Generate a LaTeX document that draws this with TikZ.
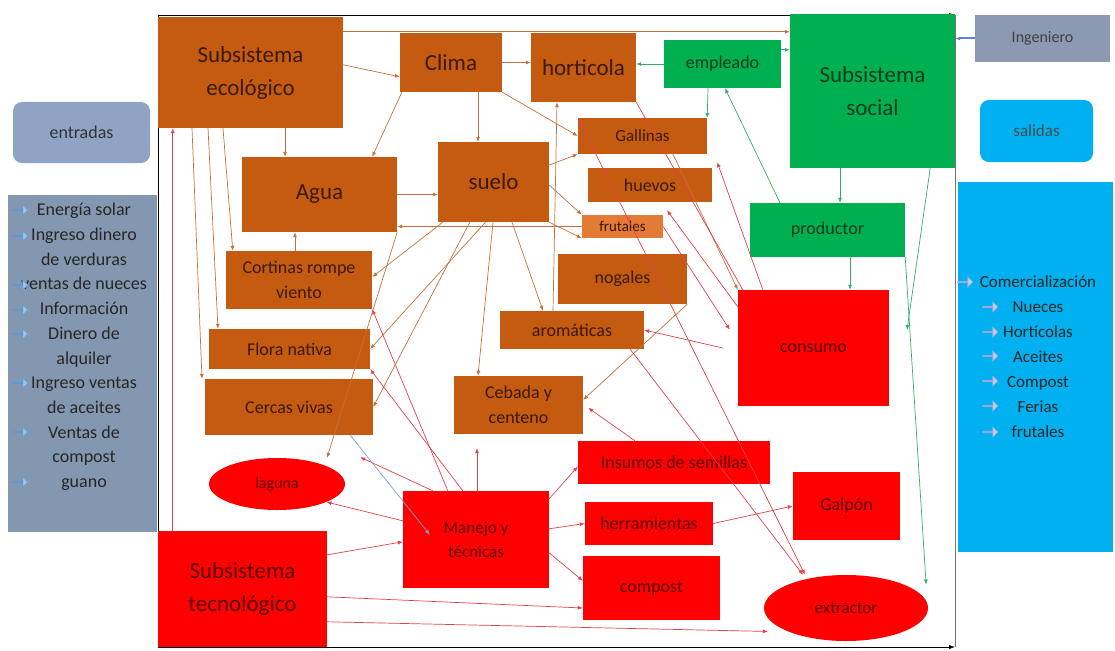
\documentclass[tikz,border=0pt]{standalone}
\usepackage{fontspec}
\setmainfont{Carlito}
\usetikzlibrary{arrows.meta,shapes.geometric,shapes.arrows}

\definecolor{ecofill}{HTML}{C55A11}
\definecolor{frutfill}{HTML}{E37A35}
\definecolor{socfill}{HTML}{00B050}
\definecolor{tecfill}{HTML}{FF0000}
\definecolor{entfill}{HTML}{8FA3C4}
\definecolor{entlist}{HTML}{8497B0}
\definecolor{salfill}{HTML}{00B0F0}
\definecolor{ingfill}{HTML}{8C99B3}
\definecolor{ecotext}{HTML}{3A1A05}
\definecolor{soctext}{HTML}{0B3B1C}
\definecolor{tectext}{HTML}{5A0000}
\definecolor{ecolink}{HTML}{C4703C}
\definecolor{teclink}{HTML}{E5404A}
\definecolor{soclink}{HTML}{2EAF6A}
\definecolor{bluelink}{HTML}{7F9FC9}
\definecolor{bullin}{HTML}{5B9BD5}
\definecolor{bullout}{HTML}{9AA8D8}

\tikzset{
  titlefont/.style={font=\fontsize{23}{33}\selectfont},
  midfont/.style={font=\fontsize{18}{25}\selectfont},
  smallfont/.style={font=\fontsize{16}{22}\selectfont},
  ecobox/.style={rectangle, fill=ecofill, text=ecotext},
  socbox/.style={rectangle, fill=socfill, text=soctext},
  tecbox/.style={rectangle, fill=tecfill, text=tectext},
  tecoval/.style={ellipse, fill=tecfill, text=tectext},
  ecoline/.style={ecolink, line width=0.7pt, ->},
  tecline/.style={teclink, line width=0.7pt, ->},
  socline/.style={soclink, line width=0.7pt, ->},
  blueline/.style={bluelink, line width=0.7pt, ->},
  frame/.style={black, line width=0.8pt},
  inarrow/.style={single arrow, draw=bullin, fill=bullin!60, line width=0.6pt,
    minimum height=15pt, minimum width=10pt, single arrow head extend=2.5pt,
    inner sep=0pt},
  outarrow/.style={inarrow, draw=bullout, fill=bullout!60}
}

\begin{document}
\begin{tikzpicture}[x=1pt, y=-1pt, >={Latex[length=5pt,width=4pt]},
  every node/.style={inner sep=0pt, align=center}]
  \useasboundingbox (0,0) rectangle (1115,650);

  % Frame
  \coordinate (f1) at (158,15);
  \coordinate (f2) at (955,15);
  \coordinate (f3) at (955,647);
  \coordinate (f4) at (158,647);
  \coordinate (sc) at (907,330);
  \draw[frame, -{Latex[length=6pt]}] (f1) -- (f2);
  \draw[frame, -{Latex[length=6pt]}] (f4) -- (f3);
  \draw[frame] (f1) -- (f4);
  \draw[black!55, line width=0.8pt] (f2) -- (f3);

  % Entradas
  \node[fill=entfill, rounded corners=9pt, minimum width=137pt, minimum height=61pt,
    midfont, text=black!80] (entr) at (81.5,132.5) {entradas};
  \node[fill=entlist, minimum width=149pt, minimum height=337pt] (entbox) at (82.5,363.5) {};
  \node[font=\fontsize{18}{24.7}\selectfont, text=black!85] (entxt) at (84,347)
    {Energía solar\\Ingreso dinero\\de verduras\\ventas de nueces\\Información\\Dinero de\\alquiler\\Ingreso ventas\\de aceites\\Ventas de\\compost\\guano};
  \foreach \y [count=\i] in {210,236,285,310,334,383,432,482}
    \node[inarrow] (bi\i) at (20,\y) {};

  % Salidas
  \node[fill=ingfill, minimum width=135pt, minimum height=47pt, smallfont,
    text=black!75] (ing) at (1042.5,38.5) {Ingeniero};
  \node[fill=salfill, rounded corners=9pt, minimum width=113pt, minimum height=62pt,
    font=\fontsize{17}{22}\selectfont, text=black!70] (sal) at (1036.5,131) {salidas};
  \node[fill=salfill, minimum width=155pt, minimum height=370pt] (salbox) at (1035.5,367) {};
  \node[font=\fontsize{17}{25}\selectfont, text=black!85] (saltxt) at (1038,357)
    {Comercialización\\Nueces\\Hortícolas\\Aceites\\Compost\\Ferias\\frutales};
  \foreach \y [count=\i] in {307,332,356,381,406,432}
    \node[outarrow] (bo\i) at (990,\y) {};
  \node[outarrow] (bo0) at (965,282) {};

  % Subsistema ecologico
  \node[ecobox, titlefont, minimum width=185pt, minimum height=111pt] (ecol) at (250.5,72.5) {Subsistema\\ecológico};
  \node[ecobox, titlefont, minimum width=102pt, minimum height=59pt] (clima) at (451,62.5) {Clima};
  \node[ecobox, titlefont, minimum width=105pt, minimum height=69pt] (hort) at (583.5,67.5) {horticola};
  \node[ecobox, titlefont, minimum width=155pt, minimum height=75pt] (agua) at (319.5,194.5) {Agua};
  \node[ecobox, titlefont, minimum width=111pt, minimum height=80pt] (suelo) at (493.5,182) {suelo};
  \node[ecobox, font=\fontsize{17}{22}\selectfont, minimum width=129pt, minimum height=36pt] (gall) at (642.5,136) {Gallinas};
  \node[ecobox, midfont, minimum width=124pt, minimum height=34pt] (huev) at (650,185) {huevos};
  \node[ecobox, fill=frutfill, font=\fontsize{15}{18}\selectfont, minimum width=81pt, minimum height=23pt] (frut) at (622.5,226.5) {frutales};
  \node[ecobox, midfont, minimum width=146pt, minimum height=58pt] (cort) at (299,280) {Cortinas rompe\\viento};
  \node[ecobox, midfont, minimum width=129pt, minimum height=50pt] (nog) at (622.5,279) {nogales};
  \node[ecobox, midfont, minimum width=144pt, minimum height=38pt] (arom) at (572,330) {aromáticas};
  \node[ecobox, midfont, minimum width=161pt, minimum height=40pt] (flora) at (289.5,349) {Flora nativa};
  \node[ecobox, midfont, minimum width=168pt, minimum height=56pt] (cerc) at (289,407) {Cercas vivas};
  \node[ecobox, midfont, minimum width=129pt, minimum height=58pt] (ceba) at (518.5,405) {Cebada y\\centeno};

  % Subsistema social
  \node[socbox, titlefont, minimum width=165pt, minimum height=154pt] (social) at (872.5,91) {Subsistema\\social};
  \node[socbox, midfont, minimum width=117pt, minimum height=48pt] (empl) at (722.5,64) {empleado};
  \node[socbox, midfont, minimum width=155pt, minimum height=54pt] (prod) at (827.5,230) {productor};

  % Subsistema tecnologico
  \node[tecbox, titlefont, minimum width=169pt, minimum height=116pt] (tecn) at (242.5,589) {Subsistema\\tecnológico};
  \node[tecbox, midfont, minimum width=151pt, minimum height=116pt] (cons) at (813.5,348) {consumo};
  \node[tecbox, midfont, minimum width=192pt, minimum height=43pt] (insu) at (674,462.5) {Insumos de semillas};
  \node[tecbox, midfont, minimum width=107pt, minimum height=68pt] (galp) at (846.5,506) {Galpón};
  \node[tecbox, font=\fontsize{17}{24}\selectfont, minimum width=146pt, minimum height=97pt] (mane) at (476,539.5) {Manejo y\\técnicas};
  \node[tecbox, midfont, minimum width=128pt, minimum height=43pt] (herr) at (649,523.5) {herramientas};
  \node[tecbox, midfont, minimum width=137pt, minimum height=64pt] (comp) at (651.5,588) {compost};
  \node[tecoval, smallfont, minimum width=136pt, minimum height=52pt] (lag) at (277,484) {laguna};
  \node[tecoval, font=\fontsize{17}{22}\selectfont, minimum width=164pt, minimum height=66pt] (extr) at (846,608) {extractor};

  % Links of the ecological part
  \draw[ecoline] ([yshift=-15pt]ecol.north east) -- ([yshift=-18pt]social.north west);
  \draw[ecoline] ([yshift=-48pt]ecol.north east) -- ([yshift=-44pt]clima.north west);
  \draw[ecoline] (clima.east) -- (clima.east -| hort.west);
  \draw[ecoline] ([xshift=2pt]clima.south west) -- ([xshift=-25pt]agua.north east);
  \draw[ecoline] ([xshift=27pt]clima.south) -- ([xshift=-15.5pt]suelo.north);
  \draw[ecoline] (clima.south east) -- (gall.west);
  \draw[ecoline] ([xshift=34.5pt]ecol.south) -- ([xshift=-34.5pt]agua.north);
  \draw[ecoline] ([xshift=-58.5pt]ecol.south) -- ([xshift=-87pt]cerc.north);
  \draw[ecoline] ([xshift=-42.5pt]ecol.south) -- ([xshift=-71.5pt]flora.north);
  \draw[ecoline] ([xshift=-27.5pt]ecol.south) -- ([xshift=7pt]cort.north west);
  \draw[ecoline] ([xshift=-4pt]cort.north) -- ([xshift=-24.5pt]agua.south);
  \draw[ecoline] (agua.east) -- (agua.east -| suelo.west);
  \draw[ecoline] (frut.west) -- (agua.east |- frut.west);
  \draw[ecoline] ([yshift=17pt]suelo.east) -- (gall.south west);
  \draw[ecoline] ([yshift=-3pt]suelo.east) -- (frut.north west);
  \draw[ecoline] (suelo.south east) -- (frut.south west);
  \draw[ecoline] ([xshift=5pt]suelo.south west) -- ([yshift=3pt]cort.east);
  \draw[ecoline] ([xshift=32pt]suelo.south west) -- (cerc.east);
  \draw[ecoline] ([xshift=-8pt]suelo.south) -- (flora.east);
  \draw[ecoline] ([xshift=-0.5pt]suelo.south) -- ([xshift=-40.5pt]ceba.north);
  \draw[ecoline] ([xshift=18.5pt]suelo.south) -- ([xshift=-29pt]arom.north);
  \draw[ecoline] ([xshift=-19pt]arom.north) -- ([xshift=-26.5pt]hort.south);
  \draw[ecoline] ([xshift=30.5pt]gall.south) -- (cons.north west);
  \draw[ecoline] (nog.south east) -- ([yshift=-24pt]ceba.north east);
  \draw[ecoline] (agua.south east) -- ([xshift=50pt]lag.north);

  % Links of the social part
  \draw[socline] (empl.west) -- (empl.west -| hort.east);
  \draw[socline] ([yshift=-10pt]empl.north east) -- ([yshift=-36pt]social.north west);
  \draw[socline] ([xshift=-14.5pt]empl.south) -- (gall.north east);
  \draw[socline] ([xshift=-47.5pt]prod.north) -- ([xshift=2.5pt]empl.south);
  \draw[socline] ([xshift=-32.5pt]social.south) -- ([xshift=12.5pt]prod.north);
  \draw[socline] ([xshift=22.5pt]prod.south) -- ([xshift=36.5pt]cons.north);
  \draw[socline] ([xshift=-25pt]social.south east) -- (sc);
  \draw[socline] (prod.south east) -- ([xshift=22pt]extr.north east);
  \draw[bluelink!80!blue, line width=2pt, ->] (ing.west) -- (ing.west -| social.east);

  % Links of the technological part
  \draw[tecline] ([xshift=15pt]tecn.north west) -- ([xshift=15pt]ecol.south west);
  \draw[tecline] ([yshift=-24pt]tecn.north east) -- ([yshift=-51pt]mane.north west);
  \draw[tecline] ([yshift=-66pt]tecn.north east) -- ([yshift=-20pt]comp.west);
  \draw[tecline] ([yshift=-91pt]tecn.north east) -- ([xshift=-20pt]extr.south west);
  \draw[tecline] ([yshift=-30pt]mane.north west) -- (lag.-20);
  \draw[tecline] ([xshift=30pt]mane.north west) -- ([xshift=-13pt,yshift=-22pt]cerc.south east);
  \draw[tecline] ([xshift=1pt]mane.north) -- ([xshift=-41.5pt,yshift=-14pt]ceba.south);
  \draw[tecline] ([yshift=-8pt]mane.north east) -- ([yshift=-4pt]insu.west);
  \draw[tecline] ([yshift=-38pt]mane.north east) -- (herr.west);
  \draw[tecline] ([yshift=-62pt]mane.north east) -- ([yshift=-25pt]comp.north west);
  \draw[tecline] (herr.east) -- (galp.west);
  \draw[tecline] ([xshift=45pt]mane.north west) -- (cort.south east);
  \draw[tecline] ([xshift=60pt]mane.north west) -- (flora.south east);
  \draw[blueline] ([xshift=-23pt]cerc.south east) -- ([xshift=27pt,yshift=-44pt]mane.north west);
  \draw[tecline] ([xshift=25pt]cons.north west) -- ([xshift=10pt,yshift=-8pt]gall.south east);
  \draw[tecline] ([yshift=-17pt]cons.north west) -- ([xshift=17pt,yshift=-8pt]huev.south);
  \draw[tecline, -] (hort.south east) -- ([xshift=5pt]cons.north west);
  \draw[tecline, <->] (gall.north west) -- ([xshift=-41pt]extr.north);
  \draw[tecline] ([xshift=-14pt]arom.south east) -- ([xshift=-43pt]extr.north);
  \draw[tecline] ([xshift=-15pt]cons.west) -- (arom.east);
  \draw[tecline] (frut.east) -- ([xshift=-8pt,yshift=-40pt]cons.north west);
  \draw[tecline] ([xshift=-39pt]insu.north) -- ([xshift=5pt,yshift=-32pt]ceba.north east);
\end{tikzpicture}
\end{document}
